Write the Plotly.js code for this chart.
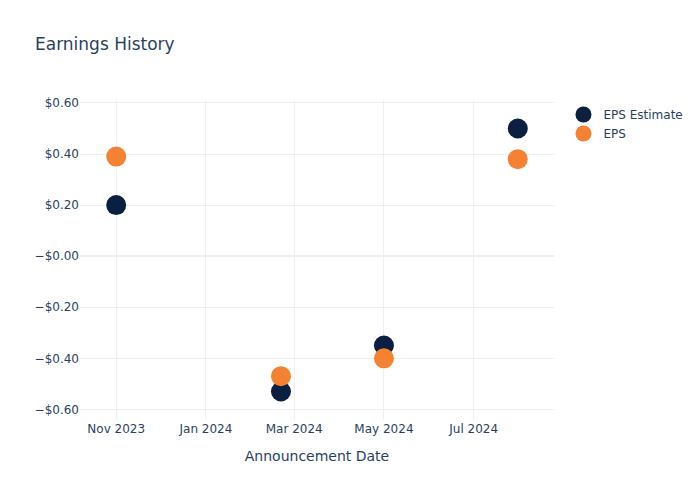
<!DOCTYPE html>
<html>
<head>
<meta charset="utf-8">
<script src="https://cdn.plot.ly/plotly-3.0.1.min.js"></script>
<style>html,body{margin:0;padding:0;background:#fff;}#chart{width:700px;height:500px;}</style>
</head>
<body>
<div id="chart"></div>
<script>
const dates = ["2023-11-01", "2024-02-21", "2024-05-01", "2024-07-31"];
const epsEstimate = [0.20, -0.53, -0.35, 0.50];
const epsActual = [0.39, -0.47, -0.40, 0.38];
const yTickVals = [0.6, 0.4, 0.2, 0, -0.2, -0.4, -0.6];
const yTickText = ["$0.60", "$0.40", "$0.20", "\u2212$0.00", "\u2212$0.20", "\u2212$0.40", "\u2212$0.60"];

const traces = [
  {x: dates, y: epsEstimate, name: "EPS Estimate", type: "scatter", mode: "markers",
   marker: {color: "#0b1f40", size: 20}},
  {x: dates, y: epsActual, name: "EPS", type: "scatter", mode: "markers",
   marker: {color: "#f58233", size: 20}}
];

const layout = {
  width: 700, height: 500,
  paper_bgcolor: "#fff", plot_bgcolor: "#fff",
  font: {family: "'DejaVu Sans', verdana, arial, sans-serif", color: "#2a3f5f", size: 12},
  title: {text: "Earnings History", x: 0.05, font: {size: 17}},
  margin: {l: 80, r: 80, t: 100, b: 80},
  xaxis: {title: {text: "Announcement Date", standoff: 16}, type: "date", gridcolor: "#EBF0F8", zeroline: false,
          showline: false, ticks: "", dtick: "M2", tickformat: "%b %Y"},
  yaxis: {tickmode: "array", tickvals: yTickVals, ticktext: yTickText, gridcolor: "#EBF0F8",
          zerolinecolor: "#EBF0F8", zerolinewidth: 2, showline: false, ticks: ""},
  legend: {font: {size: 12}},
  showlegend: true
};

Plotly.newPlot("chart", traces, layout, {displayModeBar: false, staticPlot: true});
</script>
</body>
</html>
